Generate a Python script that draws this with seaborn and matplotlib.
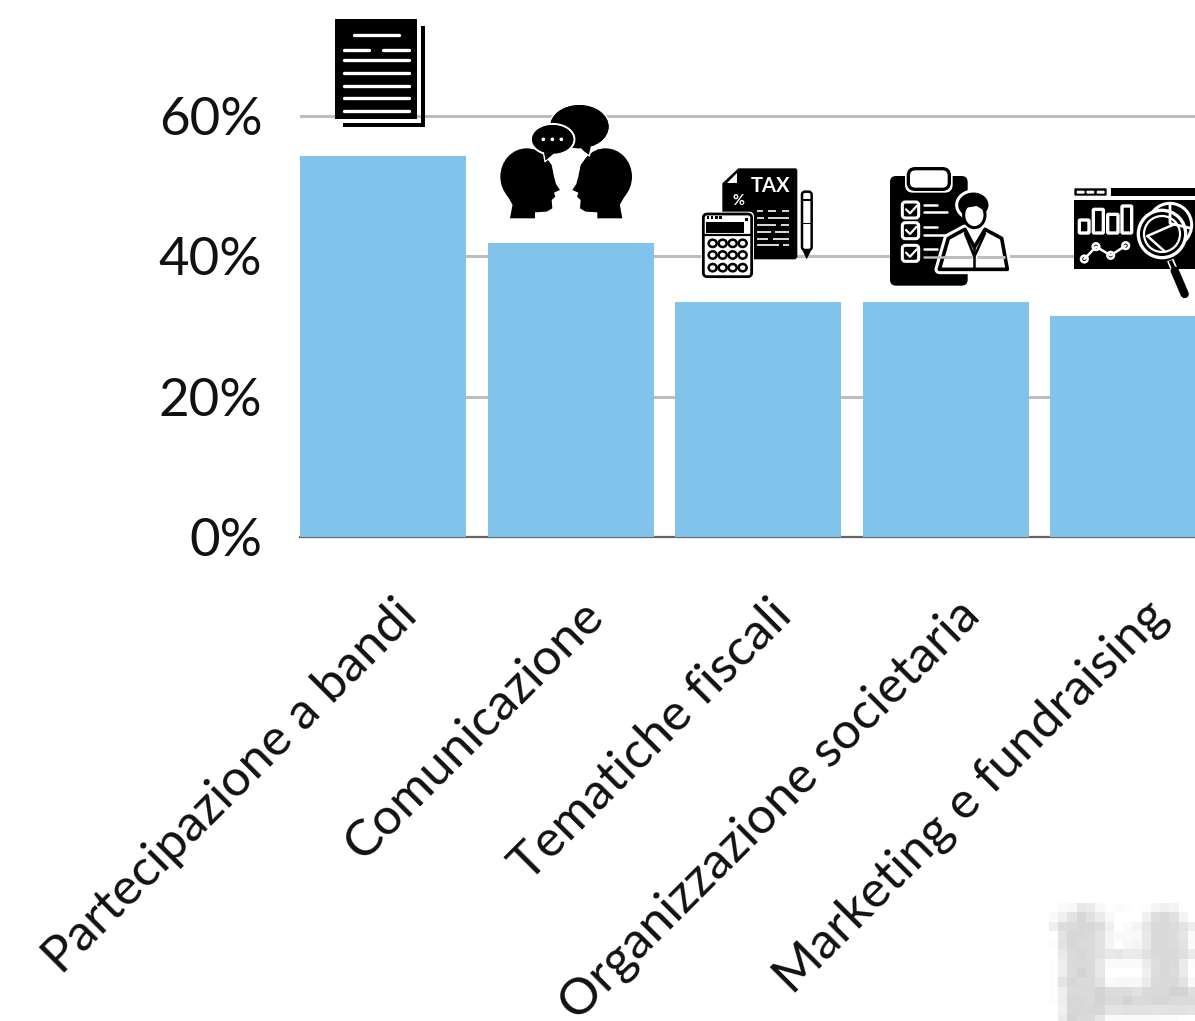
import matplotlib
matplotlib.use("Agg")
import matplotlib.pyplot as plt
import numpy as np
import seaborn as sns
from matplotlib.patches import Ellipse, FancyBboxPatch, Polygon, Rectangle
from matplotlib.transforms import ScaledTranslation

categories = ["Partecipazione a bandi", "Comunicazione", "Tematiche fiscali",
              "Organizzazione societaria", "Marketing e fundraising"]
shares = [54.3, 41.9, 33.5, 33.5, 31.5]
y_ticks = [0, 20, 40, 60]
y_tick_labels = ["0%", "20%", "40%", "60%"]

BAR_COLOR = "#82c3ec"
GRID_COLOR = "#bdbdbd"

# blurred grey patch in the lower right corner of the picture
smudge = np.array([
    [255, 250, 248, 232, 235, 248, 253, 251, 253, 255, 253, 245, 240, 243, 255, 255],
    [250, 240, 228, 215, 225, 235, 248, 255, 255, 255, 240, 222, 218, 225, 245, 255],
    [238, 220, 218, 215, 215, 220, 240, 255, 250, 245, 230, 218, 218, 220, 228, 238],
    [255, 228, 215, 215, 218, 225, 245, 250, 250, 250, 232, 218, 218, 220, 230, 250],
    [252, 226, 215, 218, 218, 225, 245, 255, 248, 245, 232, 218, 218, 220, 228, 250],
    [255, 232, 218, 215, 218, 225, 232, 230, 235, 235, 225, 218, 218, 218, 222, 235],
    [252, 238, 218, 218, 218, 232, 250, 250, 250, 250, 235, 222, 215, 218, 235, 252],
    [252, 238, 218, 212, 218, 232, 255, 255, 255, 255, 240, 220, 215, 220, 235, 255],
    [252, 228, 215, 218, 218, 228, 250, 248, 248, 248, 235, 218, 218, 218, 228, 250],
    [252, 238, 218, 218, 218, 212, 220, 220, 220, 225, 218, 218, 218, 212, 212, 222],
    [252, 238, 215, 215, 218, 212, 218, 218, 212, 218, 218, 215, 215, 218, 218, 218],
    [255, 240, 215, 215, 215, 215, 228, 228, 225, 225, 225, 228, 228, 225, 225, 228],
    [255, 235, 212, 218, 218, 230, 250, 250, 250, 250, 250, 250, 252, 252, 255, 255],
])

sns.set_style("white")
plt.rcParams["font.family"] = ["Lato", "DejaVu Sans"]

W, H = 1195, 1021
fig = plt.figure(figsize=(W / 100, H / 100), dpi=100)
ax = fig.add_axes([300 / W, 1 - 537 / H, 895 / W, 537 / H])

sns.barplot(x=categories, y=shares, color=BAR_COLOR, saturation=1, width=0.885, linewidth=0,
            ax=ax, zorder=3)
ax.set_xlim(-0.4427, 4.33)
ax.set_ylim(0, 76.53)
ax.set_yticks(y_ticks)
ax.set_yticklabels(y_tick_labels, fontsize=38, color="#111111")
ax.tick_params(axis="y", length=0, pad=27)
ax.tick_params(axis="x", length=0)
ax.grid(axis="y", color=GRID_COLOR, linewidth=2.2, zorder=0)
ax.set_axisbelow(True)
sns.despine(ax=ax, left=True, top=True, right=True)
ax.spines["bottom"].set_color("#666666")
ax.spines["bottom"].set_linewidth(1.6)
ax.spines["bottom"].set_zorder(2)

shift = ScaledTranslation(10 / 100, -50 / 100, fig.dpi_scale_trans)
ax.set_xticks(range(len(categories)))
ax.set_xticklabels(categories, rotation=45, ha="right", va="top", rotation_mode="anchor",
                   fontsize=36.8, color="#111111")
for label in ax.get_xticklabels():
    label.set_transform(label.get_transform() + shift)

# overlay in picture pixels for the icons above the bars
over = fig.add_axes([0, 0, 1, 1], zorder=5)
over.axis("off")
over.patch.set_alpha(0)
over.imshow(smudge, cmap="gray", vmin=0, vmax=255, interpolation="nearest", aspect="auto",
            extent=(1049, 1049 + 16 * 9.2, 903 + 13 * 9.3, 903))


class Icon:
    # coordinates are those of a 3x crop starting at (x0, y0)
    def __init__(self, x0, y0):
        self.x0, self.y0 = x0, y0

    def px(self, x, y):
        return self.x0 + x / 3, self.y0 + y / 3

    def poly(self, pts, fc="black", ec="none", lw=0):
        pts = [self.px(x, y) for x, y in pts]
        over.add_patch(Polygon(pts, closed=True, fc=fc, ec=ec, lw=lw, joinstyle="round"))

    def rect(self, x1, y1, x2, y2, fc="black", ec="none", lw=0, r=0):
        (a, b), (c, d) = self.px(x1, y1), self.px(x2, y2)
        if r:
            over.add_patch(FancyBboxPatch((a + r, b + r), c - a - 2 * r, d - b - 2 * r,
                                          boxstyle=f"round,pad={r},rounding_size={r}",
                                          fc=fc, ec=ec, lw=lw))
        else:
            over.add_patch(Rectangle((a, b), c - a, d - b, fc=fc, ec=ec, lw=lw))

    def oval(self, cx, cy, rx, ry, fc="black", ec="none", lw=0):
        a, b = self.px(cx, cy)
        over.add_patch(Ellipse((a, b), 2 * rx / 3, 2 * ry / 3, fc=fc, ec=ec, lw=lw))

    def line(self, pts, color="white", lw=2.0, cap="round"):
        xy = np.array([self.px(x, y) for x, y in pts])
        over.plot(xy[:, 0], xy[:, 1], color=color, lw=lw, solid_capstyle=cap, solid_joinstyle="round")

    def text(self, x, y, s, size, color="white", weight="normal"):
        a, b = self.px(x, y)
        over.text(a, b, s, fontsize=size, color=color, ha="center", va="center", fontweight=weight)


# document
doc = Icon(320, 0)
doc.rect(302, 78, 316, 380)
doc.rect(70, 368, 316, 380)
doc.rect(46, 57, 291, 358)
for row in [(98, 240, 106), (68, 152, 150), (186, 270, 150), (68, 270, 181),
            (68, 270, 219), (68, 270, 257), (68, 270, 295), (68, 270, 333)]:
    doc.line([(row[0] + 4, row[2]), (row[1] - 4, row[2])], lw=2.4)

# heads and speech bubbles
face = [(570, 655), (578, 612), (600, 560), (640, 447), (672, 465), (695, 495), (702, 530),
        (708, 552), (720, 570), (702, 578), (706, 590), (695, 600), (697, 625), (680, 635),
        (645, 637), (645, 655)]
doc.oval(620, 530, 79, 85)
doc.poly(face)
doc.oval(857, 530, 79, 85)
doc.poly([(1477 - x, y) for x, y in face])
doc.poly([(555, 575), (600, 560), (578, 615)])
doc.poly([(922, 575), (877, 560), (899, 615)])
doc.oval(778, 380, 90, 67, ec="white", lw=1.2)
doc.poly([(775, 438), (815, 438), (808, 468), (790, 455)], ec="white", lw=1.0)
doc.oval(778, 380, 88, 65)
doc.oval(698, 418, 65, 46, ec="white", lw=1.6)
doc.poly([(670, 455), (705, 460), (675, 485)], ec="white", lw=1.0)
doc.oval(698, 418, 62, 43)
doc.poly([(672, 455), (703, 458), (678, 480)])
for dot_x in (670, 697, 724):
    doc.oval(dot_x, 418, 5.5, 5.5, fc="white")

# tax form, calculator and pen
tax = Icon(690, 150)
tax.poly([(145, 55), (318, 55), (322, 60), (322, 322), (316, 328), (105, 328), (97, 322), (97, 100)])
tax.poly([(142, 70), (142, 98), (110, 98)], fc="white")
tax.text(243, 107, "TAX", 14.5, weight="bold")
tax.text(147, 152, "%", 10.5, weight="bold")
for y, spans in [(182, [(200, 218), (235, 258), (275, 297)]), (203, [(200, 222), (235, 297)]),
                 (224, [(200, 258), (272, 297)]), (245, [(200, 243), (256, 297)]),
                 (266, [(200, 233), (248, 297)]), (286, [(200, 267), (280, 297)])]:
    for a, b in spans:
        tax.line([(a, y), (b, y)], lw=1.2, cap="butt")
tax.rect(33, 185, 192, 387, fc="white", r=5)
tax.rect(40, 192, 185, 380, fc="white", ec="black", lw=2.0, r=4)
tax.rect(47, 215, 163, 250)
tax.line([(40, 256), (185, 256)], color="black", lw=1.6, cap="butt")
for sq in (54, 66, 79, 92):
    tax.rect(sq - 4, 198, sq + 4, 206)
tax.rect(165, 203, 175, 213)
for by in (280, 315, 353):
    for bx in (68, 98, 128, 158):
        tax.oval(bx, by, 12, 11, fc="white", ec="black", lw=1.8)
tax.rect(336, 125, 365, 300, fc="white", ec="black", lw=1.8, r=3)
tax.rect(336, 148, 365, 153)
tax.rect(336, 218, 365, 222)
tax.poly([(336, 298), (365, 298), (350, 328)])

# clipboard with person
clip = Icon(690, 150)
clip.rect(600, 78, 833, 407, r=6)
clip.rect(645, 48, 788, 128, fc="white", r=8)
clip.rect(655, 56, 778, 118, fc="white", ec="black", lw=2.4, r=7)
for cy in (180, 242, 310):
    clip.rect(637, cy - 24, 686, cy + 24, fc="black", ec="white", lw=2.2, r=3)
    clip.line([(648, cy - 2), (660, cy + 10), (680, cy - 12)], lw=1.6)
for y, x2, tone in [(165, 742, "white"), (187, 772, "white"), (232, 742, "white"),
                    (254, 772, "white"), (298, 742, "white"), (320, 772, GRID_COLOR)]:
    clip.line([(703, y), (x2, y)], color=tone, lw=1.8)
body = [(748, 358), (775, 265), (825, 238), (853, 292), (885, 238), (935, 265), (952, 358)]
clip.poly(body, fc="black", ec="white", lw=7)
clip.poly(body, fc="white", ec="black", lw=2.6)
clip.line([(762, 320), (845, 320)], color=GRID_COLOR, lw=2.2, cap="butt")
clip.line([(861, 320), (944, 320)], color=GRID_COLOR, lw=2.2, cap="butt")
clip.line([(853, 292), (853, 355)], color="black", lw=1.8, cap="butt")
clip.line([(825, 250), (853, 320), (885, 250)], color="black", lw=1.8)
clip.oval(850, 165, 50, 42, ec="white", lw=2.2)
clip.oval(853, 195, 32, 38, fc="white", ec="black", lw=2.2)
clip.poly([(818, 175), (860, 168), (888, 185), (890, 150), (840, 138), (815, 150)])

# analytics window with magnifier, cut by the right edge of the picture
win = Icon(690, 150)
win.rect(1153, 115, 1250, 137, r=1)
win.rect(1263, 115, 1535, 137)
for dx in (1172, 1201, 1232):
    win.rect(dx - 12, 122, dx + 12, 131, fc="white", r=1.2)
win.rect(1153, 150, 1535, 358)
for x1, y1, x2 in [(1165, 207, 1200), (1207, 175, 1243), (1250, 190, 1287), (1293, 165, 1328)]:
    win.rect(x1 + 3, y1 + 3, x2 - 3, 249, ec="white", lw=2.4, r=1)
chart = [(1183, 327), (1218, 290), (1262, 316), (1307, 287)]
win.line(chart, lw=1.8)
for x, y in chart:
    win.oval(x, y, 10, 10, ec="white", lw=1.8)
win.oval(1440, 225, 65, 65, ec="white", lw=2.2)
win.line([(1440, 162), (1440, 220), (1503, 235)], lw=2.0)
win.oval(1416, 252, 71, 71, ec="white", lw=2.4)
win.oval(1416, 252, 54, 54, ec="white", lw=1.6)
win.line([(1372, 258), (1455, 222)], lw=1.8)
win.line([(1372, 258), (1425, 305)], lw=1.8)
win.line([(1441, 330), (1451, 355)], color="white", lw=5.0, cap="butt")
win.line([(1441, 332), (1450, 352)], color="black", lw=2.6, cap="butt")
win.line([(1454, 362), (1484, 432)], color="black", lw=6.0)

over.set_xlim(0, W)
over.set_ylim(H, 0)

fig.savefig("out.png", dpi=100)
